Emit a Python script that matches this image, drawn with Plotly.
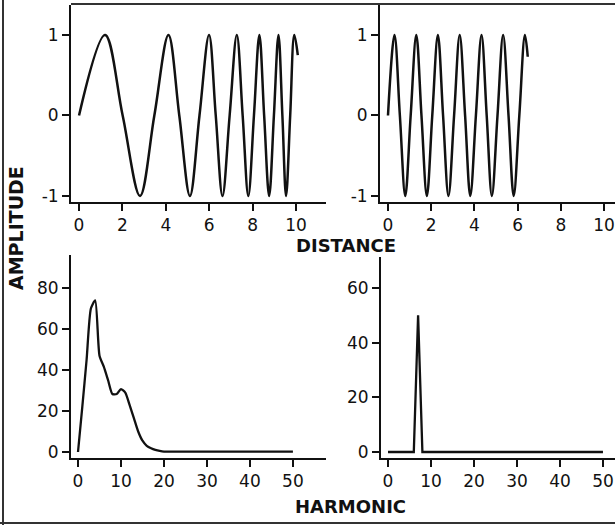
import plotly.graph_objects as go

W, H = 615, 525

# ---- data ----
# top-left: chirp signal, key points (start, peaks, zero crossings, troughs, end)
chirp_x = [0.0, 1.20, 2.01, 2.81, 3.47, 4.12, 4.62, 5.11, 5.55, 5.99, 6.30, 6.61,
           6.94, 7.27, 7.54, 7.80, 8.06, 8.31, 8.53, 8.76, 8.98, 9.19, 9.37, 9.54,
           9.73, 9.92, 10.08]
chirp_y = [0.0, 1.0, 0.0, -1.0, 0.0, 1.0, 0.0, -1.0, 0.0, 1.0, 0.0, -1.0,
           0.0, 1.0, 0.0, -1.0, 0.0, 1.0, 0.0, -1.0, 0.0, 1.0, 0.0, -1.0,
           0.0, 1.0, 0.75]

# top-right: constant-frequency sine, key points
sine_x = [0.0, 0.30, 0.55, 0.80, 1.05, 1.31, 1.55, 1.80, 2.05, 2.31, 2.55, 2.80,
          3.06, 3.32, 3.57, 3.81, 4.07, 4.33, 4.57, 4.81, 5.07, 5.33, 5.58, 5.82,
          6.08, 6.34, 6.47]
sine_y = [0.0, 1.0, 0.0, -1.0, 0.0, 1.0, 0.0, -1.0, 0.0, 1.0, 0.0, -1.0,
          0.0, 1.0, 0.0, -1.0, 0.0, 1.0, 0.0, -1.0, 0.0, 1.0, 0.0, -1.0,
          0.0, 1.0, 0.73]

# bottom-left: harmonic amplitudes of the chirp
harm = list(range(0, 51))
chirp_spec = [0, 22, 45, 70, 74, 47, 41.6, 35, 28.3, 28.3, 30.7, 29, 23, 16.5, 10,
              5.5, 3, 1.8, 1, 0.5, 0.2] + [0.2] * 30

# bottom-right: harmonic amplitudes of the sine
sine_spec = [0, 0, 0, 0, 0, 0, 0, 50] + [0] * 43

dist_ticks = [0, 2, 4, 6, 8, 10]
amp_ticks = [-1, 0, 1]
amp_labels = ["-1", "0", "1"]
harm_ticks = [0, 10, 20, 30, 40, 50]
specL_ticks = [0, 20, 40, 60, 80]
specR_ticks = [0, 20, 40, 60]

FONT = "DejaVu Sans"
BLACK = "#111111"


def px_x(p):
    return p / W


def px_y(p):
    return (H - p) / H


fig = go.Figure()
fig.add_trace(go.Scatter(x=chirp_x, y=chirp_y, mode="lines",
                         line=dict(color=BLACK, width=2.5, shape="spline", smoothing=1.0),
                         xaxis="x", yaxis="y", showlegend=False))
fig.add_trace(go.Scatter(x=sine_x, y=sine_y, mode="lines",
                         line=dict(color=BLACK, width=2.5, shape="spline", smoothing=1.0),
                         xaxis="x2", yaxis="y2", showlegend=False))
fig.add_trace(go.Scatter(x=harm, y=chirp_spec, mode="lines",
                         line=dict(color=BLACK, width=2.3, shape="spline", smoothing=0.6),
                         xaxis="x3", yaxis="y3", showlegend=False))
fig.add_trace(go.Scatter(x=harm, y=sine_spec, mode="lines",
                         line=dict(color=BLACK, width=2.3),
                         xaxis="x4", yaxis="y4", showlegend=False))

common = dict(showline=True, linecolor=BLACK, linewidth=2, ticks="outside",
              ticklen=7, tickwidth=2, tickcolor=BLACK, showgrid=False,
              zeroline=False, automargin=False)
xfont = dict(family=FONT, size=17, color=BLACK)
yfont = dict(family=FONT, size=17, color=BLACK)

layout = dict(
    width=W, height=H,
    margin=dict(l=0, r=0, t=0, b=0),
    paper_bgcolor="white", plot_bgcolor="white",
    xaxis=dict(domain=[px_x(71), px_x(326)], range=[-0.37, 11.38], anchor="y",
               tickmode="array", tickvals=dist_ticks, tickfont=xfont, **common),
    yaxis=dict(domain=[px_y(202), px_y(5)], range=[-1.075, 1.373], anchor="x",
               tickmode="array", tickvals=amp_ticks, ticktext=amp_labels,
               tickfont=yfont, **common),
    xaxis2=dict(domain=[px_x(380), 1.0], range=[-0.37, 10.51], anchor="y2",
                tickmode="array", tickvals=dist_ticks, tickfont=xfont, **common),
    yaxis2=dict(domain=[px_y(202), px_y(5)], range=[-1.075, 1.373], anchor="x2",
                tickmode="array", tickvals=amp_ticks, ticktext=amp_labels,
                tickfont=yfont, **common),
    xaxis3=dict(domain=[px_x(71), px_x(326)], range=[-1.63, 57.7], anchor="y3",
                tickmode="array", tickvals=harm_ticks, tickfont=xfont, **common),
    yaxis3=dict(domain=[px_y(458), px_y(255)], range=[-2.93, 96.1], anchor="x3",
                tickmode="array", tickvals=specL_ticks, tickfont=yfont, **common),
    xaxis4=dict(domain=[px_x(381), 1.0], range=[-1.63, 52.8], anchor="y4",
                tickmode="array", tickvals=harm_ticks, tickfont=xfont, **common),
    yaxis4=dict(domain=[px_y(458), px_y(257)], range=[-2.19, 71.3], anchor="x4",
                tickmode="array", tickvals=specR_ticks, tickfont=yfont, **common),
)
fig.update_layout(**layout)

title_font = dict(family=FONT, size=18, color=BLACK, weight="bold")
fig.add_annotation(text="DISTANCE", x=px_x(346), y=px_y(245), xref="paper", yref="paper",
                   showarrow=False, font=title_font, xanchor="center", yanchor="middle")
fig.add_annotation(text="HARMONIC", x=px_x(350), y=px_y(506), xref="paper", yref="paper",
                   showarrow=False, font=title_font, xanchor="center", yanchor="middle")
fig.add_annotation(text="AMPLITUDE", x=px_x(16), y=px_y(228), xref="paper", yref="paper",
                   showarrow=False, font=dict(family=FONT, size=19, color=BLACK, weight="bold"),
                   textangle=-90, xanchor="center", yanchor="middle")

# scanned page frame
frame = dict(color="#333333", width=2)
fig.add_shape(type="line", xref="paper", yref="paper", x0=px_x(3), x1=px_x(3),
              y0=0, y1=1, line=frame)
fig.add_shape(type="line", xref="paper", yref="paper", x0=0, x1=1,
              y0=px_y(523), y1=px_y(523), line=frame)
fig.add_shape(type="line", xref="paper", yref="paper", x0=px_x(71), x1=1,
              y0=px_y(4), y1=px_y(4), line=frame)

fig.write_html("out.html")
